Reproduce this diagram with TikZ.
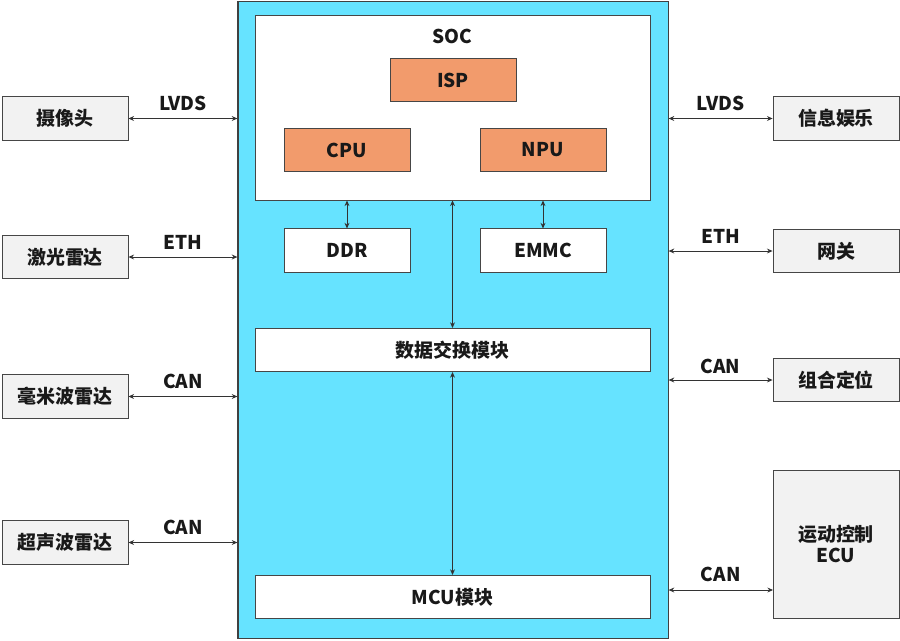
\documentclass[tikz,border=0pt]{standalone}
\usepackage{fontspec}
\setmainfont{Noto Sans CJK SC}
\usepackage{xcolor}
\definecolor{boardcyan}{RGB}{102, 227, 255}
\definecolor{coreorange}{RGB}{242, 155, 108}
\definecolor{extgray}{RGB}{242, 242, 242}
\definecolor{edgegray}{RGB}{70, 70, 70}
\usepackage{tikz}
\usetikzlibrary{
    arrows.meta,
    positioning,
    calc
}

\begin{document}
\begin{tikzpicture}[
    x=0.025cm, y=-0.025cm,
    >={Stealth[length=4pt,width=3.5pt]},
    every node/.style={font=\fontsize{13.5}{15}\selectfont\bfseries, text=black!90},
    every text node part/.style={align=center},
    box/.style={draw=edgegray, line width=0.6pt, inner sep=0pt, minimum width=3.15cm, minimum height=1.08cm},
    extbox/.style={box, fill=extgray},
    corebox/.style={box, fill=coreorange},
    membox/.style={box, fill=white},
    bandbox/.style={box, fill=white, minimum width=9.875cm},
    link/.style={draw=black!80, line width=0.6pt, <->}
]
\useasboundingbox (0,0) rectangle (900,640);

% ==================== BOARD ====================
\node[draw=black!75, line width=0.8pt, fill=boardcyan, minimum width=10.75cm, minimum height=15.9cm] (board) at (453,320) {};

\node[box, fill=white, minimum width=9.875cm, minimum height=4.625cm,
      label={[anchor=center, yshift=-0.55cm]north:SOC}] (soc) at (452.5,107.5) {};

\node[corebox] (isp) at (453,80) {ISP};
\node[corebox] (cpu) at (347,150) {CPU};
\node[corebox] (npu) at (543,150) {NPU};

\node[membox] (ddr) at (347,250.5) {DDR};
\node[membox] (emmc) at (543,250.5) {EMMC};

\node[bandbox] (swt) at (452.5,350) {数据交换模块};
\node[bandbox] (mcu) at (452.5,597) {MCU模块};

\draw[link] (soc.south -| ddr) -- (ddr.north);
\draw[link] (soc.south -| emmc) -- (emmc.north);
\draw[link] (soc.south) -- (swt.north);
\draw[link] (swt.south) -- (mcu.north);

% ==================== LEFT SENSORS ====================
\node[extbox] (cam) at (65,118.5) {摄像头};
\node[extbox] (lidar) at (65,257) {激光雷达};
\node[extbox] (radar) at (65,396.5) {毫米波雷达};
\node[extbox] (sonar) at (65,542.5) {超声波雷达};

\draw[link] (cam.east) -- node[above=2pt] {LVDS} (cam.east -| board.west);
\draw[link] (lidar.east) -- node[above=2pt] {ETH} (lidar.east -| board.west);
\draw[link] (radar.east) -- node[above=2pt] {CAN} (radar.east -| board.west);
\draw[link] (sonar.east) -- node[above=2pt] {CAN} (sonar.east -| board.west);

% ==================== RIGHT PARTNERS ====================
\node[extbox] (info) at (836,118.5) {信息娱乐};
\node[extbox] (gw) at (836,251) {网关};
\node[extbox] (gnss) at (836,380) {组合定位};
\node[extbox, minimum height=3.7cm] (ecu) at (836,544) {运动控制\\ECU};

\coordinate (ecu_port) at (773,590);

\draw[link] (board.east |- info) -- node[above=2pt] {LVDS} (info.west);
\draw[link] (board.east |- gw) -- node[above=2pt] {ETH} (gw.west);
\draw[link] (board.east |- gnss) -- node[above=1pt] {CAN} (gnss.west);
\draw[link] (board.east |- ecu_port) -- node[above=2pt] {CAN} (ecu_port);

\end{tikzpicture}
\end{document}
